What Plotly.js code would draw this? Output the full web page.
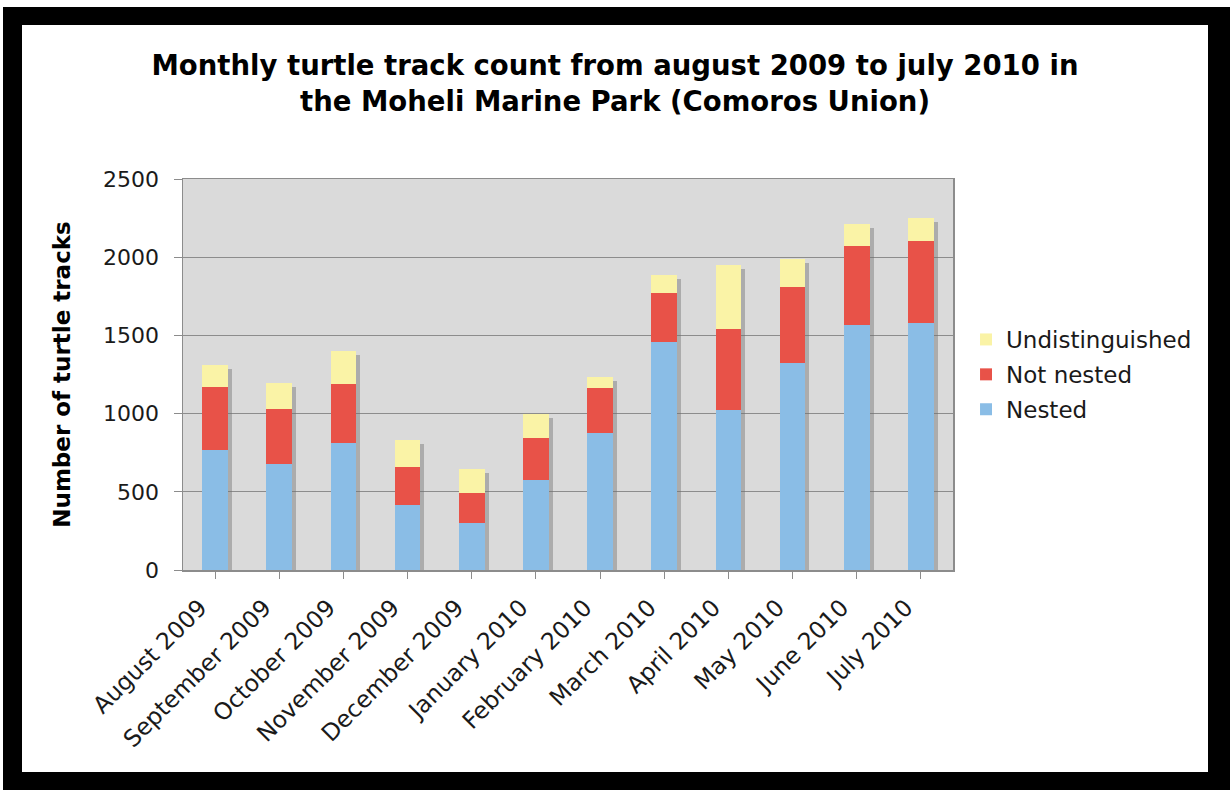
<!DOCTYPE html>
<html>
<head>
<meta charset="utf-8">
<script src="https://cdn.plot.ly/plotly-3.0.1.min.js"></script>
<style>
  html, body { margin: 0; padding: 0; background: #ffffff; width: 1230px; height: 790px; overflow: hidden; }
  #frame { position: absolute; left: 3px; top: 7px; width: 1227px; height: 783px; background: #000000; }
  #card { position: absolute; left: 19px; top: 18px; width: 1186px; height: 747px; background: #ffffff; }
  #chart { width: 1186px; height: 747px; }
</style>
</head>
<body>
<div id="frame"><div id="card"><div id="chart"></div></div></div>
<script>
// Monthly turtle track counts, Moheli Marine Park
const months = ["August 2009", "September 2009", "October 2009", "November 2009",
  "December 2009", "January 2010", "February 2010", "March 2010",
  "April 2010", "May 2010", "June 2010", "July 2010"];
const nested = [768, 678, 811, 418, 301, 576, 875, 1461, 1024, 1325, 1564, 1581];
const notNested = [399, 350, 377, 241, 190, 271, 288, 310, 520, 482, 505, 520];
const undistinguished = [145, 169, 213, 173, 155, 151, 72, 113, 406, 179, 141, 149];

const totals = months.map((_, i) => nested[i] + notNested[i] + undistinguished[i]);
const idx = months.map((_, i) => i);

const FONT = "DejaVu Sans, Verdana, sans-serif";
const BAR_W = 0.4;

// drop shadow behind each stacked column, drawn on a slightly shifted hidden axis pair
const shadow = {
  type: "bar", x: idx, y: totals, width: BAR_W,
  xaxis: "x", yaxis: "y",
  marker: { color: "rgba(110,110,110,0.42)", line: { width: 0 } },
  showlegend: false, hoverinfo: "skip"
};

// stacked from the bottom up; legend lists the top segment first
const series = [
  { name: "Nested", y: nested, color: "#8abde6", rank: 3 },
  { name: "Not nested", y: notNested, color: "#e85248", rank: 2 },
  { name: "Undistinguished", y: undistinguished, color: "#faf3a6", rank: 1 }
].map((s, k) => ({
  type: "bar", name: s.name, x: idx, y: s.y, width: BAR_W,
  xaxis: "x2", yaxis: "y2", legendgroup: "g" + k, legendrank: s.rank,
  marker: { color: s.color, line: { width: 0 } }
}));

// shadow offset: ~4px right and ~4px down
const dx = 0.062, dy = 25.6;

const layout = {
  width: 1186, height: 747,
  paper_bgcolor: "#ffffff",
  plot_bgcolor: "#dadada",
  margin: { l: 161, r: 254, t: 154, b: 202 },
  barmode: "stack",
  hovermode: false,
  showlegend: true,
  font: { family: FONT, color: "#1a1a1a", size: 22 },
  title: {
    text: "<b>Monthly turtle track count from august 2009 to july 2010 in<br>the Moheli Marine Park (Comoros Union)</b>",
    font: { family: FONT, size: 27.5, color: "#000000" },
    x: 0.5, xanchor: "center", xref: "container",
    y: 0.933, yanchor: "top", yref: "container"
  },
  xaxis: {
    range: [-0.5 - dx, 11.5 - dx], visible: false, fixedrange: true
  },
  yaxis: {
    range: [dy, 2500 + dy], visible: false, fixedrange: true
  },
  xaxis2: {
    overlaying: "x", anchor: "y2",
    range: [-0.5, 11.5],
    tickmode: "array", tickvals: idx, ticktext: months,
    tickson: "boundaries",
    tickangle: -45,
    ticks: "outside", ticklen: 7, tickcolor: "#8c8c8c", tickwidth: 1,
    ticklabelstandoff: 6, ticklabelshift: -15,
    tickfont: { family: FONT, size: 23.5, color: "#1a1a1a" },
    showline: true, linecolor: "#8c8c8c", linewidth: 1.5, mirror: true,
    showgrid: false, zeroline: false, fixedrange: true
  },
  yaxis2: {
    overlaying: "y", anchor: "x2",
    range: [0, 2500],
    tickmode: "linear", tick0: 0, dtick: 500,
    ticks: "outside", ticklen: 8, tickcolor: "#8c8c8c", tickwidth: 1,
    ticklabelstandoff: 10,
    tickfont: { family: FONT, size: 22, color: "#1a1a1a" },
    showline: true, linecolor: "#8c8c8c", linewidth: 1.5, mirror: true,
    showgrid: true, gridcolor: "#8c8c8c", gridwidth: 1.2,
    zeroline: false, fixedrange: true,
    title: {
      text: "<b>Number of turtle tracks</b>",
      font: { family: FONT, size: 23, color: "#000000" },
      standoff: 26
    }
  },
  legend: {
    x: 1.0156, xanchor: "left",
    y: 0.5, yanchor: "middle",
    traceorder: "grouped",
    tracegroupgap: 2,
    bgcolor: "rgba(0,0,0,0)",
    font: { family: FONT, size: 23, color: "#1a1a1a" }
  }
};

Plotly.newPlot("chart", [shadow].concat(series), layout, { displayModeBar: false, staticPlot: true });
</script>
</body>
</html>
